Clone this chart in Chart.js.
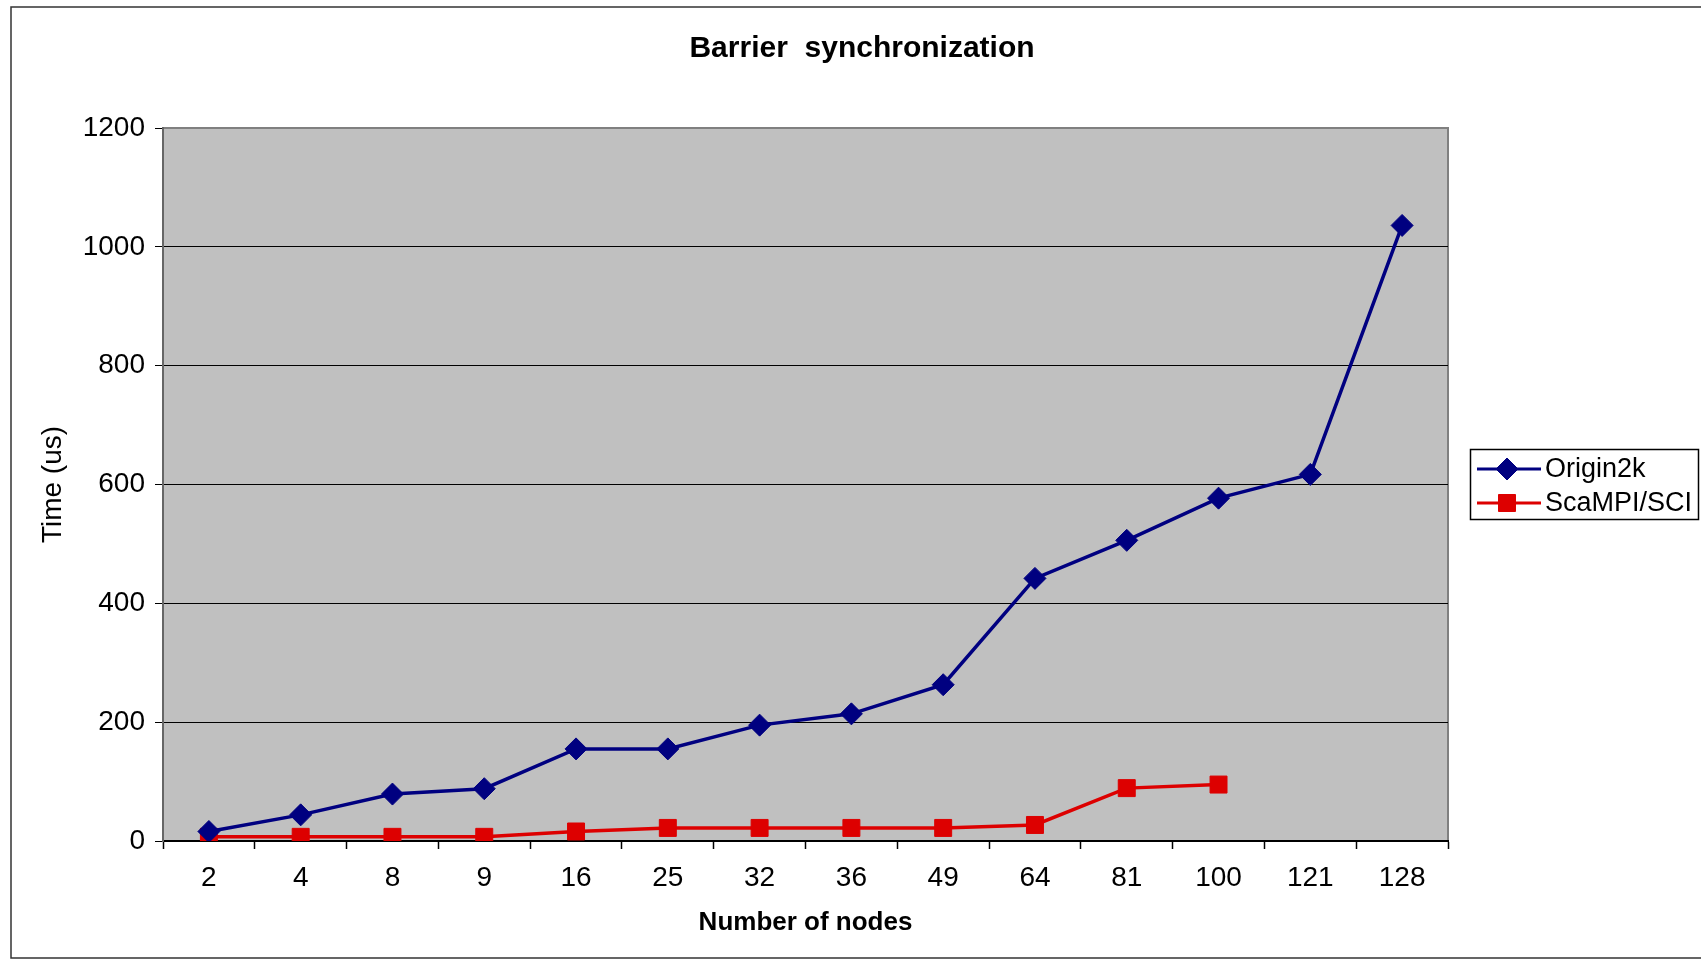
<!DOCTYPE html>
<html>
<head>
<meta charset="utf-8">
<script src="https://cdn.jsdelivr.net/npm/chart.js@4.4.0/dist/chart.umd.min.js"></script>
<style>
  html, body { margin: 0; padding: 0; background: #fff; }
</style>
</head>
<body>
<canvas id="chart" width="1701" height="961"></canvas>
<script>
const nodes = ['2', '4', '8', '9', '16', '25', '32', '36', '49', '64', '81', '100', '121', '128'];
const origin2k = [16, 44, 79, 88, 155, 155, 195, 214, 263, 442, 506, 577, 617, 1036];
const scampi = [7, 7, 7, 7, 16, 22, 22, 22, 22, 27, 89, 95];
const yTicks = [0, 200, 400, 600, 800, 1000, 1200];

const FONT = '"Liberation Sans", Arial, sans-serif';
const NAVY = '#000080';
const RED = '#dd0000';

const legendItems = [
    { text: 'Origin2k', color: NAVY, pointStyle: 'rectRot', radius: 11 },
    { text: 'ScaMPI/SCI', color: RED, pointStyle: 'rect', radius: 12 }
];

// background, outer frame, plot area, title, legend
const framePlugin = {
    id: 'frame',
    beforeDraw(chart) {
        const { ctx, chartArea: a } = chart;
        ctx.save();
        ctx.fillStyle = '#fff';
        ctx.fillRect(0, 0, chart.width, chart.height);
        ctx.strokeStyle = '#333';
        ctx.lineWidth = 1.5;
        ctx.beginPath();
        ctx.moveTo(chart.width, 7);
        ctx.lineTo(11, 7);
        ctx.lineTo(11, 958);
        ctx.lineTo(chart.width, 958);
        ctx.stroke();
        ctx.fillStyle = '#c0c0c0';
        ctx.fillRect(a.left, a.top, a.width, a.height);
        ctx.strokeStyle = '#808080';
        ctx.lineWidth = 2;
        ctx.strokeRect(a.left, a.top, a.width, a.height);
        ctx.fillStyle = '#000';
        ctx.font = 'bold 30px ' + FONT;
        ctx.textAlign = 'center';
        ctx.textBaseline = 'middle';
        ctx.fillText('Barrier  synchronization', 862, 49);
        ctx.restore();
    },
    afterDraw(chart) {
        const ctx = chart.ctx;
        ctx.save();
        ctx.strokeStyle = '#000';
        ctx.lineWidth = 1.5;
        ctx.strokeRect(1470.5, 449.5, 228, 70);
        legendItems.forEach((item, i) => {
            const y = 469 + i * 34;
            ctx.strokeStyle = item.color;
            ctx.lineWidth = 3;
            ctx.beginPath();
            ctx.moveTo(1477, y);
            ctx.lineTo(1541, y);
            ctx.stroke();
            ctx.fillStyle = item.color;
            ctx.lineWidth = 1;
            Chart.helpers.drawPoint(ctx, { pointStyle: item.pointStyle, radius: item.radius, borderWidth: 1 }, 1507, y);
            ctx.fillStyle = '#000';
            ctx.font = '27px ' + FONT;
            ctx.textAlign = 'left';
            ctx.textBaseline = 'middle';
            ctx.fillText(item.text, 1545, y + 1);
        });
        ctx.restore();
    }
};

new Chart(document.getElementById('chart').getContext('2d'), {
    type: 'line',
    data: {
        labels: nodes,
        datasets: [{
            label: 'Origin2k',
            data: origin2k,
            borderColor: NAVY,
            backgroundColor: NAVY,
            pointBorderColor: NAVY,
            pointBackgroundColor: NAVY,
            pointStyle: 'rectRot',
            pointRadius: 11,
            pointBorderWidth: 1,
            borderWidth: 3.5,
            fill: false,
            tension: 0
        }, {
            label: 'ScaMPI/SCI',
            data: scampi,
            borderColor: RED,
            backgroundColor: RED,
            pointBorderColor: RED,
            pointBackgroundColor: RED,
            pointStyle: 'rect',
            pointRadius: 12,
            pointBorderWidth: 1,
            borderWidth: 3.5,
            fill: false,
            tension: 0
        }]
    },
    options: {
        responsive: false,
        animation: false,
        devicePixelRatio: 1,
        layout: { padding: { left: 0, top: 128, right: 253, bottom: 0 } },
        plugins: {
            legend: { display: false },
            tooltip: { enabled: false }
        },
        scales: {
            x: {
                type: 'category',
                offset: true,
                grid: {
                    offset: true,
                    drawOnChartArea: false,
                    drawTicks: true,
                    tickLength: 8,
                    tickColor: '#000',
                    tickWidth: 1.5
                },
                border: { color: '#000', width: 2 },
                ticks: {
                    color: '#000',
                    font: { family: FONT, size: 28 },
                    padding: 12,
                    maxRotation: 0,
                    autoSkip: false
                },
                title: {
                    display: true,
                    text: 'Number of nodes',
                    color: '#000',
                    font: { family: FONT, size: 26, weight: 'bold' },
                    padding: { top: 0, bottom: 23 }
                },
                afterFit(scale) { scale.height = 120; }
            },
            y: {
                min: 0,
                max: 1200,
                afterBuildTicks(scale) { scale.ticks = yTicks.map(v => ({ value: v })); },
                grid: {
                    color: c => (c.tick && c.tick.value === 1200 ? '#808080' : '#000'),
                    lineWidth: 1,
                    tickLength: 8,
                    tickColor: '#000'
                },
                border: { color: '#666', width: 2 },
                ticks: {
                    color: '#000',
                    font: { family: FONT, size: 28 },
                    padding: 10,
                    callback: v => String(v)
                },
                title: {
                    display: true,
                    text: 'Time (us)',
                    color: '#000',
                    font: { family: FONT, size: 28 },
                    padding: { top: 36, bottom: 0 }
                },
                afterFit(scale) { scale.width = 163; }
            }
        }
    },
    plugins: [framePlugin]
});
</script>
</body>
</html>
